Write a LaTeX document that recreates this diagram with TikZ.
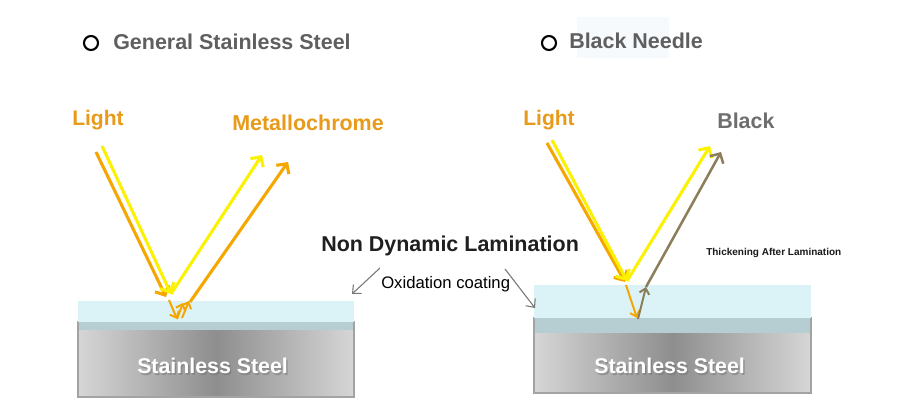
\documentclass[tikz,border=0pt]{standalone}
\usepackage{fontspec}
\setmainfont{Liberation Sans}
\usetikzlibrary{arrows.meta}
\definecolor{cyel}{HTML}{FAF200}
\definecolor{corg}{HTML}{F5A700}
\definecolor{ctxt}{HTML}{E89B1A}
\definecolor{colive}{HTML}{8C7E5A}
\definecolor{cgreyt}{HTML}{5F5F5F}
\definecolor{cblack}{HTML}{6E6E6E}
\definecolor{ccoat}{HTML}{DBF3F7}
\definecolor{cband}{HTML}{B6CDD2}
\definecolor{cborder}{HTML}{A3A3A3}
\definecolor{cedge}{HTML}{D6D6D6}
\definecolor{cmid}{HTML}{8E8E8E}
\definecolor{cptr}{HTML}{777777}
\definecolor{cfaint}{HTML}{F6FAFD}
\tikzset{
  lbl/.style={anchor=base west, inner sep=0pt, font=\bfseries\fontsize{16.1pt}{18pt}\selectfont},
  ray/.style={line width=2.3pt, -{Straight Barb[length=5.5pt,width=11.5pt]}},
  sray/.style={line width=1.5pt, -{Straight Barb[length=4pt,width=7.5pt]}},
  ptr/.style={draw=cptr, line width=0.8pt, -{Straight Barb[length=5pt,width=9pt]}},
  steeltxt/.style={anchor=base west, inner sep=0pt, font=\bfseries\fontsize{16pt}{18pt}\selectfont},
}
\begin{document}
\begin{tikzpicture}[x=0.75pt,y=-0.75pt]
\useasboundingbox (0,0) rectangle (900,416);
\fill[white] (0,0) rectangle (900,416);
% faint box behind Black Needle
\fill[cfaint] (577,17) rectangle (669,58);

% ---------- left block ----------
\draw[cborder, line width=2.2pt, left color=cedge, right color=cedge, middle color=cmid] (78,322) rectangle (354,397);
\fill[ccoat] (78,301) rectangle (354,322);
\fill[cband] (79,322) rectangle (353,330);
\node[steeltxt, text=black!55, opacity=0.5] at (138.5,375.5) {Stainless Steel};
\node[steeltxt, text=white] (ssl) at (137,374) {Stainless Steel};

% ---------- right block ----------
\draw[cborder, line width=2.2pt, left color=cedge, right color=cedge, middle color=cmid] (534,318) rectangle (811,393);
\fill[ccoat] (534,285) rectangle (811,318);
\fill[cband] (535,318) rectangle (810,333);
\node[steeltxt, text=black!55, opacity=0.5] at (595.5,375.5) {Stainless Steel};
\node[steeltxt, text=white] (ssr) at (594,374) {Stainless Steel};

% ---------- titles ----------
\draw[black, line width=1.6pt] (91,43) circle (7);
\node[lbl, text=cgreyt] (t1) at (113,50) {General Stainless Steel};
\draw[black, line width=1.6pt] (549,43) circle (7);
\node[lbl, text=cgreyt] (t2) at (569,49) {Black Needle};

% ---------- labels ----------
\node[lbl, text=ctxt, font=\bfseries\fontsize{15.8pt}{18pt}\selectfont] (l1) at (72,126) {Light};
\node[lbl, text=ctxt] (m1) at (232,131) {Metallochrome};
\node[lbl, text=ctxt, font=\bfseries\fontsize{15.8pt}{18pt}\selectfont] (l2) at (523,126) {Light};
\node[lbl, text=cblack] (b2) at (717,129) {Black};
\node[lbl, text=black!88] (ndl) at (321,252) {Non Dynamic Lamination};
\node[anchor=base west, inner sep=0pt, font=\fontsize{12.5pt}{14pt}\selectfont, text=black] (ox) at (381,289) {Oxidation coating};
\node[anchor=base west, inner sep=0pt, font=\bfseries\fontsize{7.5pt}{9pt}\selectfont, text=black!90] (thk) at (706,256) {Thickening After Lamination};

% ---------- pointer arrows ----------
\coordinate (pa1) at (380,268);
\coordinate (pb1) at (352,294);
\coordinate (pa2) at (505,269);
\coordinate (pb2) at (535,308);
\draw[ptr] (pa1) -- (pb1);
\draw[ptr] (pa2) -- (pb2);

% ---------- left rays ----------
\coordinate (lo1) at (96,152);
\coordinate (lo2) at (166,297);
\coordinate (ly1) at (102,146);
\coordinate (ly2) at (171,294);
\coordinate (ly3) at (262,155);
\coordinate (ld1) at (169,300);
\coordinate (ld2) at (177,319);
\coordinate (lu1) at (183,303);
\coordinate (lu2s) at (182,318);
\coordinate (lu2) at (189,301);
\coordinate (lo3) at (190,302);
\coordinate (lo4) at (288,162);
\draw[ray, corg] (lo1) -- (lo2);
\draw[ray, cyel] (ly1) -- (ly2);
\draw[ray, cyel] (ly2) -- (ly3);
\draw[ray, corg] (lo3) -- (lo4);
\draw[sray, corg] (ld1) -- (ld2);
\draw[sray, corg] (ld2) -- (lu1);
\draw[sray, corg] (lu2s) -- (lu2);

% ---------- right rays ----------
\coordinate (ro1) at (547,143);
\coordinate (ro2) at (625,282);
\coordinate (ry1) at (552,140);
\coordinate (ry2) at (627,281);
\coordinate (ry3) at (710,146);
\coordinate (rd1) at (626,285);
\coordinate (rd2) at (637,318);
\coordinate (rb1) at (638,319);
\coordinate (rb2) at (646,287);
\coordinate (rb3) at (721,152);
\draw[ray, corg] (ro1) -- (ro2);
\draw[ray, cyel] (ry1) -- (ry2);
\draw[ray, cyel] (ry2) -- (ry3);
\draw[sray, corg] (rd1) -- (rd2);
\draw[sray, colive] (rb1) -- (rb2);
\draw[ray, colive, line width=1.9pt] (rb2) -- (rb3);
\end{tikzpicture}
\end{document}
